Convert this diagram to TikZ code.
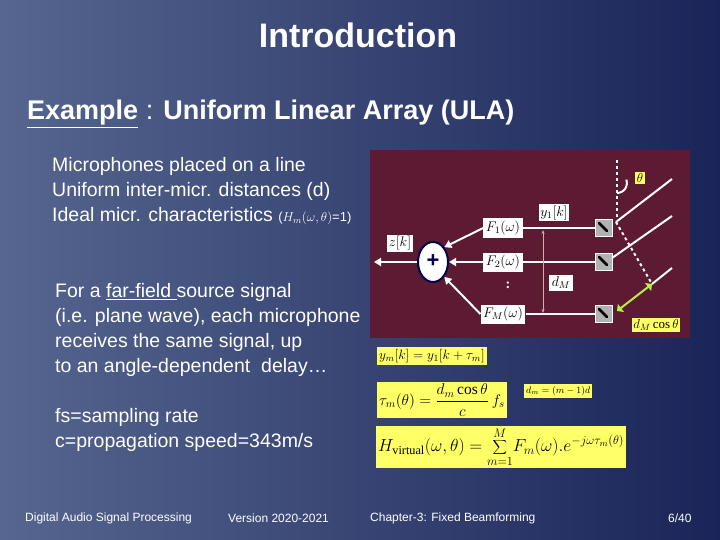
\documentclass[tikz,border=0pt]{standalone}
\usepackage{fix-cm}
\usepackage{fontspec}
\setmainfont{Liberation Serif}
\setsansfont{Liberation Sans}
\usetikzlibrary{arrows.meta,shapes.geometric}
\definecolor{panel}{HTML}{5C1A33}
\definecolor{yel}{HTML}{FFFF66}
\definecolor{lgreen}{HTML}{B8F040}
\definecolor{bgl}{HTML}{56668F}
\definecolor{bgr}{HTML}{1A2458}
\tikzset{
 txt/.style={font=\sffamily\fontsize{19.5}{25}\selectfont,text=white,align=left,anchor=west,inner sep=0},
 fbox/.style={fill=white,inner sep=2.5pt,font=\fontsize{14}{15}\selectfont},
 ybox/.style={fill=yel,inner sep=2pt},
 wl/.style={white,line width=2pt},
 wa/.style={white,line width=2pt,-{Triangle[length=7pt,width=8pt]}},
 foot/.style={font=\sffamily\fontsize{12}{14}\selectfont,text=white,anchor=west,inner sep=0},
 mic/.style={fill=gray!60,minimum width=17pt,minimum height=17pt,inner sep=0,draw=white,thin}
}
\begin{document}
\begin{tikzpicture}[x=1pt,y=-1pt]
\useasboundingbox (0,0) rectangle (720,540);
\shade[left color=bgl, right color=bgr] (0,0) rectangle (720,540);
\node[font=\sffamily\bfseries\fontsize{34}{38}\selectfont,text=white] (title) at (358,35) {Introduction};
\node[txt,font=\sffamily\bfseries\fontsize{27}{30}\selectfont] (ex) at (27,114) {\underline{Example} {\mdseries :} Uniform Linear Array (ULA)};
\node[txt] (l1) at (52,166) {Microphones placed on a line};
\node[txt] (l2) at (52,191) {Uniform inter-micr. distances (d)};
\node[txt] (l3) at (52,216) {Ideal micr. characteristics {\fontsize{13}{14}\selectfont($H_m(\omega,\theta)$=1)}};
\node[txt,align=left,anchor=north west] (ff) at (55,283) {For a \underline{far-field }source signal\\(i.e. plane wave), each microphone\\receives the same signal, up\\to an angle-dependent \ delay\dots};
\node[txt,anchor=north west] (fs) at (55,408) {fs=sampling rate\\c=propagation speed=343m/s};
% panel
\fill[panel] (370,150) rectangle (690,338);
\node[ellipse,fill=white,draw=blue!30!black,line width=2pt,minimum width=30pt,minimum height=40pt,inner sep=0] (sum) at (433,262) {};
\node[font=\sffamily\bfseries\fontsize{22}{22}\selectfont,text=blue!30!black] (plus) at (433,261) {+};
\coordinate (zout) at (374,262);
\draw[wa] (sum.west) -- (zout);
\node[fbox,inner sep=1.5pt] (zk) at (400,243) {$z[k]$};
\node[fbox] (f1) at (503,228) {$F_1(\omega)$};
\node[fbox] (f2) at (503,262) {$F_2(\omega)$};
\node[fbox] (fm) at (503,314) {$F_M(\omega)$};
\node[font=\bfseries\fontsize{14}{14}\selectfont,text=white] (dots) at (508,285) {:};
\node[fbox,inner sep=1.5pt] (y1) at (554,213) {$y_1[k]$};
\node[mic] (m1) at (604,228) {};
\node[mic] (m2) at (604,262) {};
\node[mic] (mm) at (604,314) {};
\foreach \m in {m1,m2,mm}{\draw[black,line width=2.5pt,line cap=round] ([shift={(-5pt,5pt)}]\m.center) -- ([shift={(3pt,-3pt)}]\m.center);}
\draw[wl] (f1.east) -- (m1.west);
\draw[wl] (f2.east) -- (m2.west);
\draw[wl] (fm.east) -- (mm.west);
\draw[wa] (f1.west) -- (sum.north east);
\draw[wa] (f2.west) -- (sum.east);
\draw[wa] (fm.west) -- (sum.south east);
\coordinate (dt) at (543,230); \coordinate (db) at (543,313);
\draw[pink!70!gray,line width=1pt,{Stealth[length=4pt]}-{Stealth[length=4pt]}] (dt) -- (db);
\node[fbox] (dm) at (561,283) {$d_M$};
% angle
\coordinate (vt) at (617,160); \coordinate (vb) at (617,219);
\draw[white,line width=2pt,dashed] (vt) -- (vb);
\draw[white,line width=2pt] (617,193) arc[start angle=90,end angle=-20,radius=10];
\node[ybox,inner sep=1.5pt,font=\fontsize{13}{14}\selectfont] (th) at (640,178) {$\theta$};
\coordinate (w1a) at (616,222); \coordinate (w1b) at (672,179);
\coordinate (w2a) at (612,258); \coordinate (w2b) at (672,216);
\coordinate (w3a) at (652,284); \coordinate (w3b) at (672,268);
\draw[wl] (w1a) -- (w1b);
\draw[wl] (w2a) -- (w2b);
\draw[wl] (w3a) -- (w3b);
\draw[white,line width=2pt,dashed] (w1a) -- (w3a);
\coordinate (ga) at (617,311);
\draw[lgreen,line width=2pt,{Triangle[length=5pt]}-{Triangle[length=5pt]}] (ga) -- (w3a);
\node[ybox,inner sep=1.5pt,font=\fontsize{13}{14}\selectfont] (dc) at (656,325) {$d_M\cos\theta$};
% formulas
\node[ybox,anchor=north west,font=\fontsize{13.5}{14}\selectfont] (e1) at (377,347) {$y_m[k]=y_1[k+\tau_m]$};
\node[ybox,anchor=north west,font=\fontsize{15.5}{16}\selectfont] (e2) at (377,382) {$\tau_m(\theta)=\displaystyle\frac{d_m\cos\theta}{c}\,f_s$};
\node[ybox,anchor=north west,font=\fontsize{9.5}{10}\selectfont] (e3) at (524,384) {$d_m=(m-1)d$};
\node[ybox,anchor=north west,font=\fontsize{17.5}{19}\selectfont,inner sep=2pt] (e4) at (376,426) {$H_{\mathrm{virtual}}(\omega,\theta)=\displaystyle\sum_{m=1}^{M}\!F_m(\omega).e^{-j\omega\tau_m(\theta)}$};
% footer
\node[foot] (ft1) at (25,518) {Digital Audio Signal Processing};
\node[foot] (ft2) at (228,518) {Version 2020-2021};
\node[foot] (ft3) at (370,518) {Chapter-3: Fixed Beamforming};
\node[foot] (ft4) at (668,518) {6/40};
\end{tikzpicture}
\end{document}
